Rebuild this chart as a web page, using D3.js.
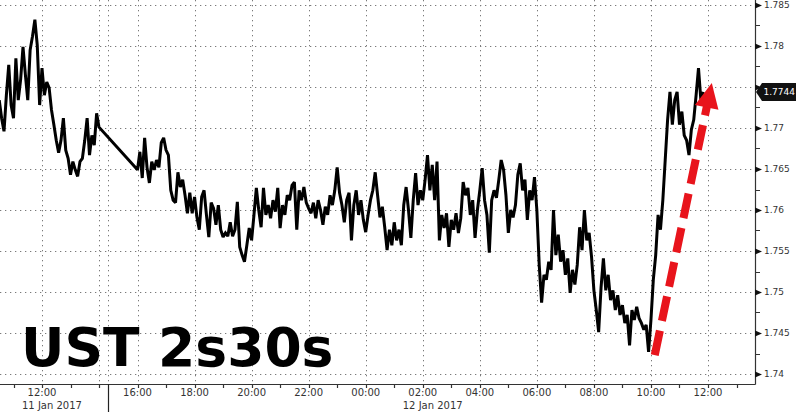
<!DOCTYPE html>
<html><head><meta charset="utf-8">
<script src="https://cdn.jsdelivr.net/npm/d3@7"></script>
<style>body{margin:0;background:#fff} svg{display:block}</style>
</head><body><svg id="c" width="800" height="417"></svg>
<script>
const title = "UST 2s30s";
const sampleMinutes = 5;
const day1Start = "2017-01-11T10:30";
const day1Values = [1.7734,1.7712,1.7696,1.7740,1.7777,1.7728,1.7712,1.7785,1.7734,1.7759,
  1.7799,1.7765,1.7734,1.7795,1.7812,1.7832,1.7801,1.7728,1.7773,1.7740,
  1.7756,1.7749,1.7722,1.7704,1.7685,1.7670,1.7685,1.7712,1.7673,1.7663,
  1.7643,1.7659,1.7649,1.7641,1.7659,1.7663,1.7685,1.7712,1.7667,1.7691,
  1.7679,1.7718,1.7701];
const day2Start = "2017-01-11T16:00";
const day2Values = [1.7649,1.7671,1.7639,1.7688,1.7652,1.7633,1.7659,1.7649,1.7661,1.7652,1.7682,1.7688,
  1.7673,1.7667,1.7624,1.7612,1.7609,1.7646,1.7628,1.7637,1.7618,1.7596,1.7621,1.7596,
  1.7616,1.7591,1.7576,1.7616,1.7624,1.7594,1.7567,1.7609,1.7602,1.7582,1.7606,1.7576,
  1.7567,1.7572,1.7568,1.7585,1.7568,1.7576,1.7610,1.7555,1.7545,1.7537,1.7557,1.7578,
  1.7563,1.7594,1.7627,1.7600,1.7579,1.7627,1.7594,1.7606,1.7590,1.7612,1.7598,1.7627,
  1.7578,1.7606,1.7594,1.7618,1.7612,1.7630,1.7634,1.7576,1.7624,1.7612,1.7628,1.7609,
  1.7602,1.7596,1.7609,1.7590,1.7612,1.7600,1.7582,1.7604,1.7594,1.7618,1.7606,1.7624,
  1.7652,1.7621,1.7606,1.7585,1.7612,1.7621,1.7563,1.7606,1.7624,1.7594,1.7612,1.7588,
  1.7573,1.7594,1.7612,1.7624,1.7646,1.7618,1.7591,1.7604,1.7579,1.7551,1.7576,1.7557,
  1.7585,1.7563,1.7576,1.7557,1.7606,1.7628,1.7600,1.7566,1.7612,1.7645,1.7606,1.7624,
  1.7612,1.7637,1.7667,1.7624,1.7655,1.7612,1.7659,1.7563,1.7594,1.7578,1.7596,1.7555,
  1.7588,1.7576,1.7596,1.7572,1.7590,1.7634,1.7618,1.7627,1.7594,1.7612,1.7566,1.7600,
  1.7624,1.7651,1.7612,1.7594,1.7548,1.7612,1.7624,1.7615,1.7637,1.7661,1.7649,1.7618,
  1.7572,1.7600,1.7591,1.7606,1.7643,1.7657,1.7624,1.7637,1.7588,1.7624,1.7612,1.7640,
  1.7600,1.7533,1.7487,1.7521,1.7515,1.7537,1.7527,1.7600,1.7545,1.7570,1.7537,1.7551,
  1.7521,1.7541,1.7499,1.7527,1.7509,1.7533,1.7579,1.7551,1.7600,1.7563,1.7572,1.7543,
  1.7502,1.7478,1.7451,1.7505,1.7541,1.7502,1.7521,1.7490,1.7502,1.7478,1.7496,1.7472,
  1.7484,1.7462,1.7472,1.7435,1.7478,1.7466,1.7482,1.7468,1.7462,1.7454,1.7460,1.7427,
  1.7466,1.7515,1.7545,1.7594,1.7576,1.7612,1.7661,1.7710,1.7744,1.7704,1.7734,1.7744,
  1.7704,1.7720,1.7691,1.7685,1.7667,1.7698,1.7710,1.7740,1.7773,1.7734,1.7744];
const lastValue = 1.7744;

const yTicks = [1.74,1.745,1.75,1.755,1.76,1.765,1.77,1.775,1.78,1.785];
const yTickLabels = ["1.74","1.745","1.75","1.755","1.76","1.765","1.77","1.775","1.78","1.785"];
const yMinorTicks = [1.7425,1.7475,1.7525,1.7575,1.7625,1.7675,1.7725,1.7775,1.7825];

const xLabelTimes = ["2017-01-11T12:00","2017-01-11T16:00","2017-01-11T18:00","2017-01-11T20:00",
  "2017-01-11T22:00","2017-01-12T00:00","2017-01-12T02:00","2017-01-12T04:00",
  "2017-01-12T06:00","2017-01-12T08:00","2017-01-12T10:00","2017-01-12T12:00"];
const xLabels = ["12:00","16:00","18:00","20:00","22:00","00:00","02:00","04:00","06:00","08:00","10:00","12:00"];
const extraGridTimes = ["2017-01-11T14:00"];
const hourTickRanges = [["2017-01-11T11:00","2017-01-11T14:00"],["2017-01-11T16:00","2017-01-12T13:00"]];
const dateLabelTimes = ["2017-01-11T12:00","2017-01-12T02:00"];
const dateLabels = ["11 Jan 2017","12 Jan 2017"];
const sessionBreak = "2017-01-11T14:28";

const arrowFrom = {t:"2017-01-12T10:08", v:1.7423};
const arrowTo = {t:"2017-01-12T12:08", v:1.7755};

// scales
const P = s => new Date(s);
const xAnchors = ["2017-01-11T12:00","2017-01-11T14:00","2017-01-11T16:00","2017-01-12T12:00"].map(P);
const x = d3.scaleTime().domain(xAnchors).range([42, 99, 137.5, 708]);
const y = d3.scaleLinear().domain([1.74, 1.785]).range([374, 5]);
const axisX = 755, axisY = 384;

const data = [];
day1Values.forEach((v,i)=>data.push({t:d3.timeMinute.offset(P(day1Start), i*sampleMinutes), v}));
day2Values.forEach((v,i)=>data.push({t:d3.timeMinute.offset(P(day2Start), i*sampleMinutes), v}));

const svg = d3.select("#c");
svg.append("rect").attr("width",800).attr("height",417).attr("fill","#fff");

const grid = svg.append("g").attr("stroke","#7a7a7a").attr("stroke-width",1).attr("stroke-dasharray","1.3,3.7");
grid.selectAll("line.h").data(yTicks).join("line").attr("class","h")
  .attr("x1",0).attr("x2",axisX).attr("y1",d=>Math.round(y(d))+0.5).attr("y2",d=>Math.round(y(d))+0.5);
const gridTimes = xLabelTimes.concat(extraGridTimes, [sessionBreak]).map(P);
grid.selectAll("line.v").data(gridTimes).join("line").attr("class","v")
  .attr("y1",0).attr("y2",axisY).attr("x1",d=>Math.round(x(d))+0.5).attr("x2",d=>Math.round(x(d))+0.5);

// title
svg.append("text").attr("x",21).attr("y",366).text(title)
  .attr("font-family","DejaVu Sans").attr("font-weight","bold").attr("font-size",53.5).attr("fill","#000");

// line
svg.append("path").datum(data)
  .attr("d", d3.line().x(d=>x(d.t)).y(d=>y(d.v)))
  .attr("fill","none").attr("stroke","#000").attr("stroke-width",3)
  .attr("stroke-linejoin","miter").attr("stroke-miterlimit",2);

// arrow annotation
const ax0 = x(P(arrowFrom.t)), ay0 = y(arrowFrom.v), ax1 = x(P(arrowTo.t)), ay1 = y(arrowTo.v);
const L = Math.hypot(ax1-ax0, ay1-ay0), ux=(ax1-ax0)/L, uy=(ay1-ay0)/L;
const headLen = 25, headHalf = 12;
const bx = ax1 - ux*headLen, by = ay1 - uy*headLen;
svg.append("line").attr("x1",ax0).attr("y1",ay0).attr("x2",bx+ux*2).attr("y2",by+uy*2)
  .attr("stroke","#e8141c").attr("stroke-width",8).attr("stroke-dasharray","25,10");
svg.append("polygon").attr("fill","#e8141c")
  .attr("points",[[ax1,ay1],[bx-uy*headHalf, by+ux*headHalf],[bx+uy*headHalf, by-ux*headHalf]].map(p=>p.join(",")).join(" "));

// axes lines
const ax = svg.append("g").attr("stroke","#333").attr("stroke-width",1.2);
ax.append("line").attr("x1",0).attr("x2",axisX+0.5).attr("y1",axisY+0.5).attr("y2",axisY+0.5);
ax.append("line").attr("x1",axisX+0.5).attr("x2",axisX+0.5).attr("y1",0).attr("y2",axisY+0.5);

// x ticks
let hourTicks = [];
hourTickRanges.forEach(([a,b])=>{ hourTicks = hourTicks.concat(d3.timeHour.range(P(a), d3.timeMinute.offset(P(b),1))); });
ax.selectAll("line.xt").data(hourTicks).join("line").attr("class","xt")
  .attr("x1",d=>Math.round(x(d))+0.5).attr("x2",d=>Math.round(x(d))+0.5).attr("y1",axisY).attr("y2",axisY+4);
svg.append("line").attr("x1",Math.round(x(P(sessionBreak)))+0.5).attr("x2",Math.round(x(P(sessionBreak)))+0.5)
  .attr("y1",axisY).attr("y2",412).attr("stroke","#222").attr("stroke-width",1.2);

const fam = "DejaVu Sans";
svg.selectAll("text.xl").data(xLabelTimes).join("text").attr("class","xl")
  .attr("x",(d)=>x(P(d))).attr("y",396).attr("text-anchor","middle")
  .attr("font-family",fam).attr("font-size",10).attr("fill","#333")
  .text((d,i)=>xLabels[i]);
svg.selectAll("text.dl").data(dateLabelTimes).join("text").attr("class","dl")
  .attr("x",d=>x(P(d))-20).attr("y",409)
  .attr("font-family",fam).attr("font-size",10).attr("fill","#333")
  .text((d,i)=>dateLabels[i]);

// y ticks
svg.selectAll("path.ytri").data(yTicks).join("path").attr("class","ytri")
  .attr("d",d=>{const yy=Math.round(y(d))+0.5; return `M${axisX},${yy-3}L${axisX+7},${yy}L${axisX},${yy+3}Z`;})
  .attr("fill","#111");
svg.selectAll("line.ymin").data(yMinorTicks).join("line").attr("class","ymin")
  .attr("x1",axisX).attr("x2",axisX+5).attr("y1",d=>Math.round(y(d))+0.5).attr("y2",d=>Math.round(y(d))+0.5)
  .attr("stroke","#333").attr("stroke-width",1);
const ly = y(lastValue);
// labels hidden behind the last-value tag are not drawn
const shownY = yTicks.map((d,i)=>({d, s:yTickLabels[i]})).filter(o=>Math.abs(y(o.d)-ly) > 12);
svg.selectAll("text.yl").data(shownY).join("text").attr("class","yl")
  .attr("x",axisX+9).attr("y",o=>y(o.d)+3.3)
  .attr("font-family",fam).attr("font-size",9).attr("fill","#333")
  .text(o=>o.s);

// last value tag
svg.append("path").attr("fill","#111")
  .attr("d",`M${axisX+1},${ly}L${axisX+7},${ly-9}L${796},${ly-9}L${796},${ly+9}L${axisX+7},${ly+9}Z`);
svg.append("text").attr("x",axisX+8.5).attr("y",ly+3.3).text(lastValue.toFixed(4))
  .attr("font-family",fam).attr("font-size",9).attr("fill","#fff");
</script></body></html>
